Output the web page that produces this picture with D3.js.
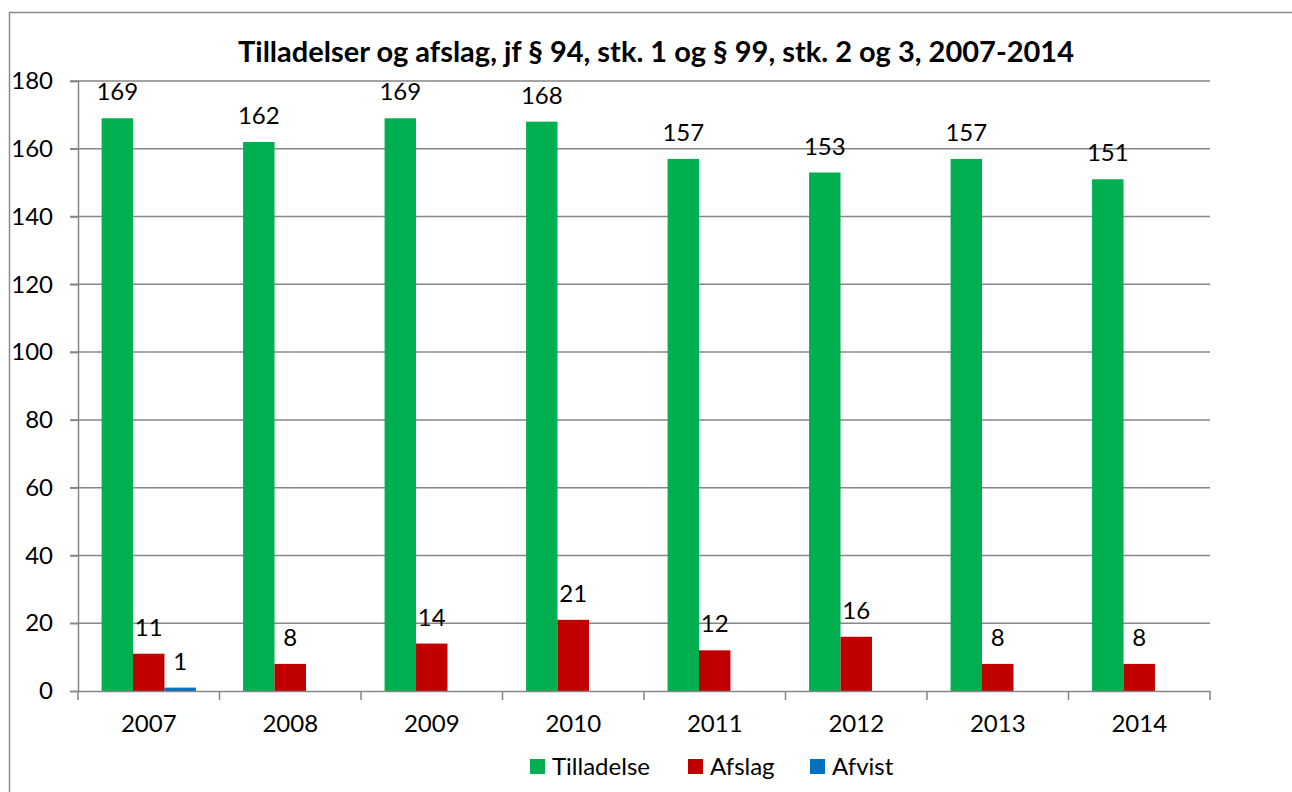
<!DOCTYPE html>
<html>
<head>
<meta charset="utf-8">
<script src="https://cdn.jsdelivr.net/npm/d3@7"></script>
<style>
  body { margin: 0; background: #fff; }
  svg { display: block; font-family: Lato, "Open Sans", sans-serif; }
</style>
</head>
<body>
<div id="chart"></div>
<script>
// data
var years = ['2007', '2008', '2009', '2010', '2011', '2012', '2013', '2014']
var series_names = ['Tilladelse', 'Afslag', 'Afvist']
var tilladelse = [169, 162, 169, 168, 157, 153, 157, 151]
var afslag = [11, 8, 14, 21, 12, 16, 8, 8]
var afvist = [1, 0, 0, 0, 0, 0, 0, 0]
var y_ticks = [0, 20, 40, 60, 80, 100, 120, 140, 160, 180]
var colors = ['#00b050', '#c00000', '#0070c0']
var title = 'Tilladelser og afslag, jf § 94, stk. 1 og § 99, stk. 2 og 3, 2007-2014'

var chart_width = 1292, chart_height = 792
var plot_left = 78, plot_right = 1210, plot_top = 81, plot_bottom = 691
var all_series = [tilladelse, afslag, afvist]
var font_size = 24

var svg = d3.select('#chart')
    .append('svg')
    .attr('width', chart_width)
    .attr('height', chart_height)

// outer frame (runs off the right and bottom edges)
svg.append('rect')
    .attr('x', 9.5).attr('y', 12.5)
    .attr('width', 1400).attr('height', 900)
    .attr('fill', 'none')
    .attr('stroke', '#8c8c8c')
    .attr('stroke-width', 1.5)

var x = d3.scaleBand().domain(years).range([plot_left, plot_right])
var bar_w = x.bandwidth() / 4.5
var x_inner = d3.scaleBand().domain(series_names).range([0, bar_w * 3])
var y = d3.scaleLinear().domain([0, 180]).range([plot_bottom, plot_top])

// gridlines
svg.append('g')
    .selectAll('line')
    .data(y_ticks.slice(1))
    .enter()
    .append('line')
    .attr('x1', plot_left - 8).attr('x2', plot_right)
    .attr('y1', d => y(d)).attr('y2', d => y(d))
    .attr('stroke', '#868686')
    .attr('stroke-width', 1.5)

// y axis
var y_axis = svg.append('g')
    .attr('transform', `translate(${plot_left},0)`)
    .call(d3.axisLeft(y).tickValues(y_ticks).tickSize(8).tickPadding(17))
y_axis.select('.domain').attr('stroke', '#868686').attr('stroke-width', 1.5)
y_axis.selectAll('.tick line').attr('stroke', '#868686').attr('stroke-width', 1.5)
y_axis.selectAll('.tick text')
    .attr('font-size', font_size).attr('fill', '#000')
    .attr('font-family', 'Lato, "Open Sans", sans-serif')

// bars
var groups = svg.append('g')
    .selectAll('g')
    .data(years)
    .enter()
    .append('g')
    .attr('transform', d => `translate(${x(d) + (x.bandwidth() - bar_w * 3) / 2},0)`)

series_names.forEach((name, s) => {
    groups.append('rect')
        .attr('x', x_inner(name))
        .attr('width', x_inner.bandwidth())
        .attr('y', (d, i) => y(all_series[s][i]))
        .attr('height', (d, i) => plot_bottom - y(all_series[s][i]))
        .attr('fill', colors[s])

    groups.filter((d, i) => all_series[s][i] > 0)
        .append('text')
        .attr('x', x_inner(name) + x_inner.bandwidth() / 2)
        .attr('y', d => y(all_series[s][years.indexOf(d)]) - 18)
        .attr('text-anchor', 'middle')
        .attr('font-size', font_size)
        .text(d => all_series[s][years.indexOf(d)])
})

// x axis
var x_axis = svg.append('g')
    .attr('transform', `translate(0,${plot_bottom})`)
    .call(d3.axisBottom(x).tickSize(0).tickPadding(24))
x_axis.select('.domain').attr('stroke', '#868686').attr('stroke-width', 1.5)
x_axis.selectAll('.tick text')
    .attr('font-size', font_size).attr('fill', '#000')
    .attr('font-family', 'Lato, "Open Sans", sans-serif')
svg.append('g')
    .selectAll('line')
    .data(d3.range(years.length + 1))
    .enter()
    .append('line')
    .attr('x1', i => plot_left + i * x.bandwidth()).attr('x2', i => plot_left + i * x.bandwidth())
    .attr('y1', plot_bottom).attr('y2', plot_bottom + 9)
    .attr('stroke', '#868686')
    .attr('stroke-width', 1.5)

// title
svg.append('text')
    .attr('x', 656).attr('y', 62)
    .attr('text-anchor', 'middle')
    .attr('font-size', 29)
    .attr('font-weight', 'bold')
    .text(title)

// legend
var legend_x = [530, 688, 810]
var legend = svg.append('g')
    .selectAll('g')
    .data(series_names)
    .enter()
    .append('g')
    .attr('transform', (d, i) => `translate(${legend_x[i]},759)`)
legend.append('rect')
    .attr('width', 15).attr('height', 15)
    .attr('fill', (d, i) => colors[i])
legend.append('text')
    .attr('x', 22).attr('y', 16)
    .attr('font-size', font_size)
    .text(d => d)
</script>
</body>
</html>
